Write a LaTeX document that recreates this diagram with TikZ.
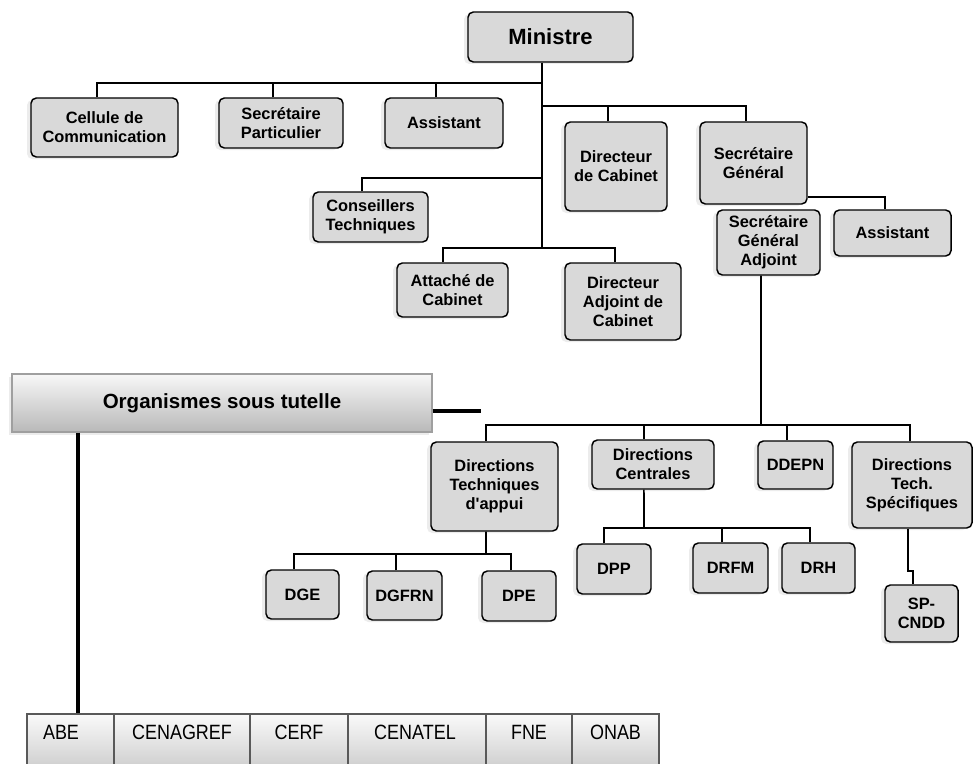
\documentclass[tikz,border=0pt]{standalone}
\usepackage{fontspec}
\setmainfont{Liberation Sans}
\newfontfamily\narrowfont[FakeStretch=0.87]{Liberation Sans}
\usetikzlibrary{shadows}
\definecolor{boxgray}{HTML}{D9D9D9}
\begin{document}
\begin{tikzpicture}[x=0.75pt,y=-0.75pt,
  sz/.style 2 args={minimum width=#1*0.75pt, minimum height=#2*0.75pt},
  box/.style={draw=black, line width=1.1pt, rounded corners=4pt, fill=boxgray,
    inner sep=0pt, align=center, font=\fontsize{12.3}{14.3}\selectfont\bfseries,
    drop shadow={shadow xshift=-3pt, shadow yshift=-1.5pt, opacity=0.15}},
  link/.style={line width=1.2pt, draw=black},
  trunk/.style={line width=2pt, draw=black},
  orgline/.style={line width=2.4pt, draw=black},
  orgbox/.style={draw=gray!75, line width=0.8pt, top color=gray!6, bottom color=gray!55,
    inner sep=0pt, font=\fontsize{15.4}{18}\selectfont\bfseries,
    drop shadow={shadow xshift=-2pt, shadow yshift=-2pt, opacity=0.15}},
  cell/.style={draw=gray!70!black, line width=0.8pt, top color=gray!4, bottom color=gray!52, inner sep=0pt},
  celltext/.style={font=\narrowfont\fontsize{15.5}{18}\selectfont, inner sep=0pt}
]
\clip (0,0) rectangle (973,763);
\fill[white] (0,0) rectangle (973,763);

% boxes (centre, size in px)
\node[box, font=\fontsize{16.5}{19}\selectfont\bfseries, sz={165}{50}] (min) at (550.5,37) {Ministre};
\node[box, sz={147}{59}] (cel) at (104.5,127.5) {Cellule de\\Communication};
\node[box, sz={124}{50}] (sp) at (281,123) {Secrétaire\\Particulier};
\node[box, sz={118}{50}] (as1) at (444,123) {Assistant};
\node[box, sz={102}{89}] (dcab) at (616,166.5) {Directeur\\de Cabinet};
\node[box, sz={107}{82}] (sg) at (753.5,163) {Secrétaire\\Général};
\node[box, sz={115}{50}] (cons) at (370.5,217) {Conseillers\\Techniques};
\node[box, sz={111}{54}] (att) at (452.5,290) {Attaché de\\Cabinet};
\node[box, sz={116}{77}] (dadj) at (623,301.5) {Directeur\\Adjoint de\\Cabinet};
\node[box, sz={103}{65}] (sga) at (768.5,242.5) {Secrétaire\\Général\\Adjoint};
\node[box, sz={117}{46}] (as2) at (892.5,233) {Assistant};
\node[box, sz={127}{89}] (dta) at (494.5,486.5) {Directions\\Techniques\\d\textquotesingle appui};
\node[box, sz={122}{49}] (dc) at (653,464.5) {Directions\\Centrales};
\node[box, sz={75}{48}] (ddepn) at (795.5,465) {DDEPN};
\node[box, sz={120}{86}] (dts) at (912,485) {Directions\\Tech.\\Spécifiques};
\node[box, sz={73}{49}] (dge) at (302.5,594.5) {DGE};
\node[box, sz={75}{49}] (dgfrn) at (404.5,595.5) {DGFRN};
\node[box, sz={74}{50}] (dpe) at (519,596) {DPE};
\node[box, sz={74}{50}] (dpp) at (614,569) {DPP};
\node[box, sz={75}{50}] (drfm) at (730.5,568) {DRFM};
\node[box, sz={73}{50}] (drh) at (818.5,568) {DRH};
\node[box, sz={73}{57}] (spc) at (921.5,613.5) {SP-\\CNDD};

% junctions
\coordinate (j1) at (542,83);
\coordinate (j2) at (542,106);
\coordinate (j3) at (542,178);
\coordinate (j4) at (542,248);
\coordinate (j5) at (761,425);
\coordinate (j6) at (486,554);
\coordinate (j7) at (644,528);
\coordinate (jog) at (908,571);

\draw[trunk] (min.south -| j4) -- (j4);
\draw[link] ([xshift=-5.6pt]cel.north) |- (j1);
\draw[link] ([xshift=-6pt]sp.north) |- (j1);
\draw[link] ([xshift=-6pt]as1.north) |- (j1);
\draw[link] ([xshift=-6pt]dcab.north) |- (j2);
\draw[link] ([xshift=-5.6pt]sg.north) |- (j2);
\draw[link] ([xshift=-6.4pt]cons.north) |- (j3);
\draw[link] ([xshift=-7.1pt]att.north) |- (j4);
\draw[link] ([xshift=-6pt]dadj.north) |- (j4);
\draw[link] ([yshift=6pt]sg.south east) -| ([xshift=-5.6pt]as2.north);

\draw[link] ([xshift=-5.6pt]sga.south) -- (j5);
\draw[link] ([xshift=-6.4pt]dta.north) |- (j5);
\draw[link] ([xshift=-6.8pt]dc.north) |- (j5);
\draw[link] ([xshift=-6.4pt]ddepn.north) |- (j5);
\draw[link] ([xshift=-1.5pt]dts.north) |- (j5);

\draw[link] ([xshift=-6.4pt]dta.south) -- (j6);
\draw[link] ([xshift=-6.4pt]dge.north) |- (j6);
\draw[link] ([xshift=-6.4pt]dgfrn.north) |- (j6);
\draw[link] ([xshift=-6pt]dpe.north) |- (j6);

\draw[link] ([xshift=-6.8pt]dc.south) -- (j7);
\draw[link] ([xshift=-7.5pt]dpp.north) |- (j7);
\draw[link] ([xshift=-6.4pt]drfm.north) |- (j7);
\draw[link] ([xshift=-6.4pt]drh.north) |- (j7);

\draw[link] (dts.south -| jog) -- (jog) -| ([xshift=-6.4pt]spc.north);

% organismes
\node[orgbox, sz={420}{58}] (org) at (222,403) {Organismes sous tutelle};
\coordinate (orgend) at (481,411);
\draw[orgline] ([yshift=-6pt]org.east) -- (orgend);

\node[cell, sz={87}{76}] (c1) at (70.5,752) {};
\node[cell, sz={136}{76}] (c2) at (182,752) {};
\node[cell, sz={98}{76}] (c3) at (299,752) {};
\node[cell, sz={138}{76}] (c4) at (417,752) {};
\node[cell, sz={86}{76}] (c5) at (529,752) {};
\node[cell, sz={87}{76}] (c6) at (615.5,752) {};
\node[celltext] (t1) at (61,732.5) {ABE};
\node[celltext] (t2) at (182,732.5) {CENAGREF};
\node[celltext] (t3) at (299,732.5) {CERF};
\node[celltext] (t4) at (415,732.5) {CENATEL};
\node[celltext] (t5) at (529,732.5) {FNE};
\node[celltext] (t6) at (615.5,732.5) {ONAB};

\draw[orgline] ([xshift=-108pt]org.south) -- ([xshift=-108pt]org.south |- c1.north);
\end{tikzpicture}
\end{document}
